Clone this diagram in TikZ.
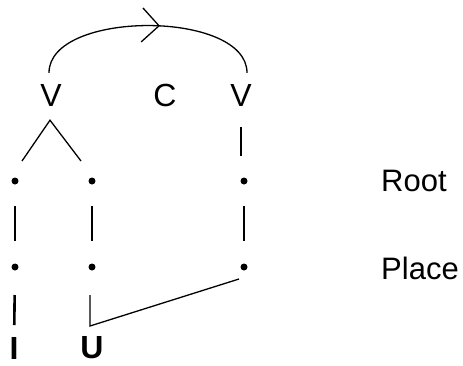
\documentclass[tikz,border=0pt]{standalone}
\usepackage{fontspec}
\setmainfont{Liberation Sans}
\usetikzlibrary{arrows.meta, decorations.markings, calc}

\begin{document}
\begin{tikzpicture}[x=1pt, y=-1pt,
  tier/.style={inner sep=0pt, font=\fontsize{32}{38}\selectfont},
  slot/.style={circle, fill=black, inner sep=0pt, minimum size=7pt},
  bar/.style={line width=2.6pt, shorten <=25pt, shorten >=26pt},
  link/.style={line width=1.3pt},
  arcmark/.style={postaction=decorate, decoration={markings,
    mark=at position 0.55 with {\arrow{Straight Barb[length=17pt, width=34pt, line width=1.3pt]}}}}]
\useasboundingbox (0,0) rectangle (463,365);
% CV tier
\node[tier] (vl) at (51,95) {V};
\node[tier] (c) at (165,95) {C};
\node[tier] (vr) at (241,95) {V};
% Root and place nodes
\node[slot] (d11) at (15,181) {};
\node[slot] (d21) at (92,181) {};
\node[slot] (d31) at (244,181) {};
\node[slot] (d12) at (15,267) {};
\node[slot] (d22) at (92,267) {};
\node[slot] (d32) at (244,267) {};
% Features
\node[tier, font=\fontsize{32}{38}\selectfont\bfseries] (fi) at (14,348) {I};
\node[tier, font=\fontsize{32}{38}\selectfont\bfseries] (fu) at (92,348) {U};
% Row labels
\node[tier, font=\fontsize{31}{37}\selectfont, anchor=west] (root) at (381,181) {Root};
\node[tier, font=\fontsize{31}{37}\selectfont, anchor=west] (place) at (381,268) {Place};
% Spreading arc
\draw[link, arcmark] ($(vl.north)+(-2,-11)$) .. controls +(0,-63) and +(0,-63) .. ($(vr.north)+(6,-11)$);
% Branching
\draw[link] ($(d11)+(7,-20)$) -- ($(vl.south)+(-1,14)$) -- ($(d21)+(-11,-20)$);
\draw[bar, shorten <=32pt, shorten >=25pt] (vr.center) -- (vr.center |- d31.center);
\draw[bar] (d11.center) -- (d12.center);
\draw[bar] (d21.center) -- (d22.center);
\draw[bar] (d31.center) -- (d32.center);
\draw[bar, shorten <=28pt, shorten >=23pt] (d12.center) -- (fi.center);
\coordinate (elbow) at (90,326);
\draw[link] ($(d22)+(-2,28)$) -- (elbow) -- ($(d32)+(-5,12)$);
\end{tikzpicture}
\end{document}
